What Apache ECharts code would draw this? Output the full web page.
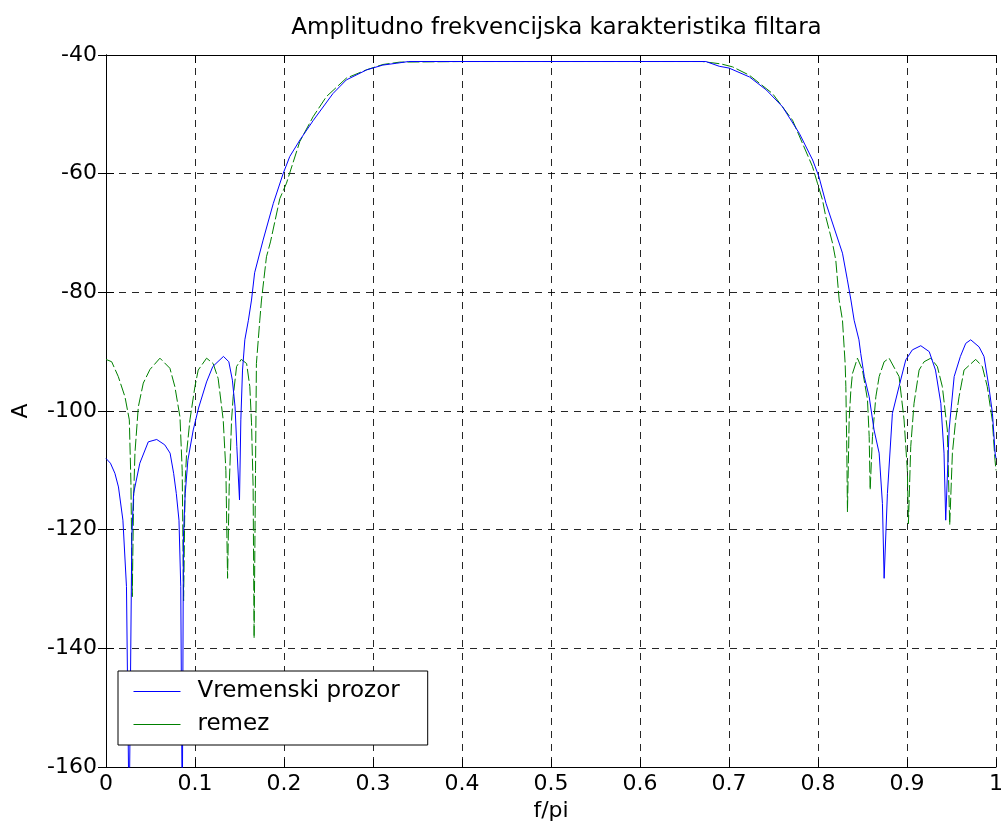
<!DOCTYPE html>
<html>
<head>
<meta charset="utf-8">
<script src="https://cdn.jsdelivr.net/npm/echarts@6/dist/echarts.min.js"></script>
<style>
  html, body { margin: 0; padding: 0; background: #fff; }
  #chart { width: 1006px; height: 830px; }
</style>
</head>
<body>
<div id="chart"></div>
<script>
// ---- data (f/pi, A) ----
const titleText = 'Amplitudno frekvencijska karakteristika filtara';
const xName = 'f/pi';
const yName = 'A';
const seriesNames = ['Vremenski prozor', 'remez'];
const xTicks = { min: 0, max: 1, interval: 0.1 };
const yTicks = { min: -160, max: -40, interval: 20 };

const windowed = [
  [0,-108],[0.005,-108.8],[0.010,-110.5],[0.014,-112.8],[0.019,-118.4],[0.023,-129.6],[0.026,-170],
  [0.029,-121.2],[0.031,-113.9],[0.038,-108.8],[0.0475,-105.2],[0.057,-104.8],[0.066,-105.7],
  [0.072,-107.1],[0.076,-110.5],[0.079,-113.9],[0.082,-118.4],[0.084,-129.6],[0.0857,-170],
  [0.087,-121.2],[0.089,-113.9],[0.092,-108.3],[0.098,-103.2],[0.104,-99.5],[0.113,-95.1],
  [0.120,-92.5],[0.132,-90.8],[0.138,-91.7],[0.142,-94.8],[0.145,-99.3],[0.147,-106],[0.150,-115],
  [0.1515,-101.5],[0.1534,-93.1],[0.156,-88],[0.160,-84.7],[0.1635,-81.3],[0.167,-76.7],
  [0.1765,-71.2],[0.188,-65],[0.199,-60],[0.2065,-57.1],[0.218,-54.3],[0.233,-51],[0.255,-46.5],
  [0.270,-44.2],[0.293,-42.5],[0.311,-41.7],[0.326,-41.4],[0.34,-41.1],[0.40,-41.1],[0.50,-41.1],
  [0.60,-41.1],[0.674,-41.1],[0.689,-41.9],[0.70,-42.2],[0.723,-43.7],[0.742,-45.9],[0.760,-48.7],
  [0.779,-53.2],[0.794,-57.7],[0.801,-60.5],[0.809,-65],[0.820,-70],[0.8275,-73.4],[0.833,-77.9],
  [0.837,-81.3],[0.8406,-84.7],[0.846,-88],[0.848,-90.3],[0.852,-94.2],[0.8575,-97.6],[0.863,-103.2],
  [0.8687,-107.1],[0.8724,-115.6],[0.8743,-128.2],[0.878,-113.9],[0.8836,-100.4],[0.891,-95.9],
  [0.8986,-91.4],[0.906,-89.7],[0.9155,-89],[0.925,-90],[0.932,-93.1],[0.938,-98.7],[0.9416,-107.1],
  [0.9435,-118.4],[0.9473,-103.2],[0.953,-94.2],[0.960,-90.8],[0.966,-88.6],[0.9716,-88],
  [0.981,-89.2],[0.9865,-90.8],[0.992,-95.9],[0.996,-100.4],[0.999,-107.1],[1.0,-108]
];

const remez = [
  [0,-91.3],[0.0064,-91.7],[0.0138,-94.2],[0.0213,-97.6],[0.0262,-101.5],[0.028,-112],[0.0295,-131.3],
  [0.031,-115],[0.0325,-107.1],[0.0363,-99.3],[0.0419,-95.3],[0.0494,-93],[0.0606,-91.1],[0.0718,-92.8],
  [0.0774,-95.9],[0.0831,-101],[0.0856,-110],[0.0872,-132],[0.0889,-112],[0.0906,-107],[0.0943,-101.5],
  [0.0999,-95.9],[0.1036,-93.1],[0.113,-91.1],[0.1204,-92],[0.126,-94.5],[0.1317,-101.5],[0.1347,-110],
  [0.1366,-128.2],[0.1384,-112.8],[0.1411,-101.5],[0.1429,-97.6],[0.1467,-92.5],[0.152,-91.3],[0.158,-92],
  [0.1616,-95.9],[0.1635,-102],[0.1653,-112.8],[0.1664,-138.3],[0.168,-110],[0.169,-92],[0.1728,-84.7],
  [0.1747,-81.3],[0.1803,-74],[0.1848,-71.5],[0.1953,-64.2],[0.2028,-61.6],[0.2177,-54.6],[0.2327,-50.4],
  [0.2477,-47],[0.2701,-43.9],[0.2926,-42.5],[0.3112,-41.6],[0.33,-41.2],[0.4,-41.1],[0.5,-41.1],
  [0.6,-41.1],[0.67,-41.1],[0.691,-41.5],[0.704,-42],[0.7228,-43.4],[0.7489,-46.5],[0.7714,-51],
  [0.7826,-54.9],[0.7938,-58.8],[0.7994,-61.6],[0.805,-64.4],[0.8088,-67.3],[0.8163,-71.7],[0.82,-74.6],
  [0.8238,-81.3],[0.8275,-84.7],[0.8305,-92],[0.8313,-95.9],[0.8324,-107],[0.8331,-117],[0.835,-101.5],
  [0.8369,-96.5],[0.8387,-93.7],[0.8443,-91.1],[0.85,-93.1],[0.8556,-98.1],[0.8575,-104.3],[0.8586,-113.3],
  [0.8612,-104.3],[0.865,-97.6],[0.8687,-94.2],[0.8743,-91.7],[0.8799,-91.1],[0.8911,-94.2],[0.8967,-101.5],
  [0.9004,-110],[0.9016,-119],[0.9042,-106],[0.9079,-98.7],[0.9136,-93.1],[0.9192,-91.7],[0.9267,-91.1],
  [0.9341,-92.5],[0.9397,-95.9],[0.9453,-103.2],[0.948,-119.2],[0.951,-107.1],[0.9547,-101.5],
  [0.9585,-97.6],[0.9641,-93.1],[0.9772,-91.3],[0.9846,-92.5],[0.9902,-95.9],[0.9958,-101.5],
  [0.9989,-108.3],[1,-110]
];

// ---- chart ----
const FONT = 'DejaVu Sans';
const chart = echarts.init(document.getElementById('chart'), null, { renderer: 'canvas' });

const gridLine = { show: true, lineStyle: { color: '#000', width: 1, type: [7, 6], opacity: 0.85 } };
const axisLine = { show: true, lineStyle: { color: '#000', width: 1 } };
const tickIn = { show: true, inside: true, length: 8, lineStyle: { color: '#000' } };

chart.setOption({
  animation: false,
  backgroundColor: '#fff',
  title: {
    text: titleText,
    left: 551.5,
    top: 12,
    textAlign: 'center',
    textStyle: { fontFamily: FONT, fontSize: 23, fontWeight: 'normal', color: '#000' }
  },
  grid: { left: 106, right: 9, top: 55, bottom: 63, containLabel: false },
  legend: {
    orient: 'vertical',
    left: 118,
    top: 671,
    padding: [9, 28, 9, 15],
    itemGap: 10,
    itemWidth: 47,
    itemHeight: 14,
    borderColor: '#000',
    borderWidth: 1,
    backgroundColor: '#fff',
    z: 20,
    itemStyle: { opacity: 0 },
    lineStyle: { type: 'solid', width: 1 },
    textStyle: { fontFamily: FONT, fontSize: 23, color: '#000', lineHeight: 23, padding: [0, 0, 0, 12] },
    data: seriesNames
  },
  xAxis: [
    {
      type: 'value', min: xTicks.min, max: xTicks.max, interval: xTicks.interval,
      name: xName, nameLocation: 'middle', nameGap: 29,
      nameTextStyle: { fontFamily: FONT, fontSize: 22, color: '#000' },
      axisLine: axisLine, axisTick: tickIn, splitLine: gridLine,
      axisLabel: { fontFamily: FONT, fontSize: 22, color: '#000', margin: 6 }
    },
    {
      type: 'value', position: 'top', min: xTicks.min, max: xTicks.max, interval: xTicks.interval,
      axisLine: axisLine, axisTick: tickIn, splitLine: { show: false }, axisLabel: { show: false }
    }
  ],
  yAxis: [
    {
      type: 'value', min: yTicks.min, max: yTicks.max, interval: yTicks.interval,
      name: yName, nameLocation: 'middle', nameGap: 74, nameRotate: 90,
      nameTextStyle: { fontFamily: FONT, fontSize: 22, color: '#000' },
      axisLine: axisLine, axisTick: tickIn, splitLine: gridLine,
      axisLabel: { fontFamily: FONT, fontSize: 22, color: '#000', margin: 9 }
    },
    {
      type: 'value', position: 'right', min: yTicks.min, max: yTicks.max, interval: yTicks.interval,
      axisLine: axisLine, axisTick: tickIn, splitLine: { show: false }, axisLabel: { show: false }
    }
  ],
  series: [
    {
      name: seriesNames[0], type: 'line', data: windowed, showSymbol: false, symbol: 'none',
      clip: true, z: 3, color: '#0000ff',
      lineStyle: { color: '#0000ff', width: 1 }
    },
    {
      name: seriesNames[1], type: 'line', data: remez, showSymbol: false, symbol: 'none',
      clip: true, z: 2, color: '#008000',
      lineStyle: { color: '#008000', width: 1, type: [12, 3] }
    }
  ]
});
</script>
</body>
</html>
